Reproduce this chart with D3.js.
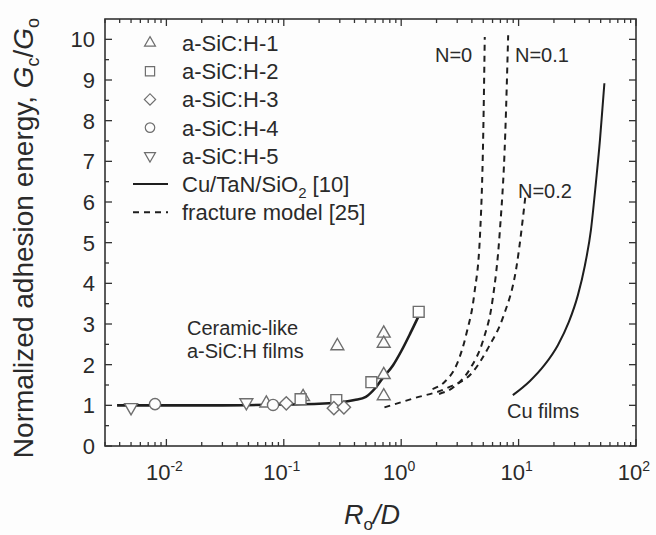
<!DOCTYPE html>
<html><head><meta charset="utf-8">
<script src="https://cdn.jsdelivr.net/npm/d3@7"></script>
<style>body{margin:0;background:#fdfdfd} svg{display:block;font-family:Arial,"Liberation Sans",sans-serif}</style>
</head><body><svg id="c" width="656" height="535"></svg>
<script>
// ---- data ----
const xTickVals = [0.01, 0.1, 1, 10, 100];
const xTickExp = ["-2", "-1", "0", "1", "2"];
const yTickVals = [0, 1, 2, 3, 4, 5, 6, 7, 8, 9, 10];

const sic1X = [0.071, 0.146, 0.286, 0.71, 0.71, 0.71, 0.71];
const sic1Y = [1.05, 1.21, 2.46, 2.77, 2.52, 1.75, 1.23];
const sic2X = [0.139, 0.28, 0.557, 1.41];
const sic2Y = [1.15, 1.13, 1.57, 3.30];
const sic3X = [0.105, 0.267, 0.325];
const sic3Y = [1.05, 0.93, 0.95];
const sic4X = [0.008, 0.081];
const sic4Y = [1.03, 1.01];
const sic5X = [0.005, 0.048];
const sic5Y = [0.95, 1.07];

const fitX = [0.0038, 0.01, 0.03, 0.1, 0.2, 0.3, 0.4, 0.5, 0.6, 0.7, 0.85, 1.0, 1.2, 1.41];
const fitY = [1.0, 1.0, 1.0, 1.02, 1.04, 1.07, 1.13, 1.21, 1.42, 1.68, 1.98, 2.33, 2.78, 3.2];
const cuX = [8.93, 12.5, 16.7, 21.6, 26.8, 32.0, 36.7, 41.3, 45.6, 49.3, 51.8, 53.8];
const cuY = [1.25, 1.60, 2.00, 2.48, 3.05, 3.71, 4.44, 5.31, 6.49, 7.52, 8.31, 8.92];
const n0X = [1.85, 2.35, 3.0, 3.6, 4.2, 4.7, 5.0, 5.15];
const n0Y = [1.40, 1.58, 2.03, 2.77, 3.75, 5.23, 7.69, 10.06];
const n1X = [2.1, 2.77, 3.9, 5.0, 6.0, 6.9, 7.7, 8.15];
const n1Y = [1.28, 1.44, 1.92, 2.61, 3.59, 5.23, 7.69, 10.1];
const n2X = [0.72, 1.27, 2.43, 4.1, 5.6, 7.4, 9.6, 11.5];
const n2Y = [0.95, 1.17, 1.42, 1.83, 2.45, 3.18, 4.41, 6.21];

const legendLabels = ["a-SiC:H-1", "a-SiC:H-2", "a-SiC:H-3", "a-SiC:H-4", "a-SiC:H-5"];

// ---- layout ----
const L = 105, R = 636, T = 19, B = 446;
const svg = d3.select("#c");
const x = d3.scaleLog().domain([0.003, 100]).range([L, R]);
const y = d3.scaleLinear().domain([0, 10.5]).range([B, T]);
const txt = "#2a2a2a", axc = "#333", mk = "#6e6e6e";

svg.append("rect").attr("width", 656).attr("height", 535).attr("fill", "#fdfdfd");

// ticks
const g = svg.append("g").attr("stroke", axc).attr("stroke-width", 1.3);
const ymin = d3.range(0.5, 10.5, 1);
yTickVals.forEach(v => {
  g.append("line").attr("x1", L).attr("x2", L + 7).attr("y1", y(v)).attr("y2", y(v));
  g.append("line").attr("x1", R).attr("x2", R - 7).attr("y1", y(v)).attr("y2", y(v));
});
ymin.forEach(v => {
  g.append("line").attr("x1", L).attr("x2", L + 4).attr("y1", y(v)).attr("y2", y(v));
  g.append("line").attr("x1", R).attr("x2", R - 4).attr("y1", y(v)).attr("y2", y(v));
});
const xmin = [];
[0.001, 0.01, 0.1, 1, 10].forEach(d => { for (let k = 2; k <= 9; k++) { const v = d * k; if (v >= 0.003 && v < 100) xmin.push(v); } });
xTickVals.forEach(v => {
  g.append("line").attr("x1", x(v)).attr("x2", x(v)).attr("y1", B).attr("y2", B - 7);
  g.append("line").attr("x1", x(v)).attr("x2", x(v)).attr("y1", T).attr("y2", T + 7);
});
xmin.forEach(v => {
  g.append("line").attr("x1", x(v)).attr("x2", x(v)).attr("y1", B).attr("y2", B - 4);
  g.append("line").attr("x1", x(v)).attr("x2", x(v)).attr("y1", T).attr("y2", T + 4);
});
svg.append("rect").attr("x", L).attr("y", T).attr("width", R - L).attr("height", B - T)
  .attr("fill", "none").attr("stroke", axc).attr("stroke-width", 1.6);

// tick labels
yTickVals.forEach(v => {
  svg.append("text").attr("x", L - 10).attr("y", y(v) + 8).attr("text-anchor", "end")
    .attr("font-size", 22).attr("fill", txt).text(v);
});
xTickVals.forEach((v, i) => {
  const t = svg.append("text").attr("x", x(v) - 2).attr("y", 480).attr("text-anchor", "middle")
    .attr("font-size", 22).attr("fill", txt);
  t.append("tspan").text("10");
  t.append("tspan").attr("dy", -9).attr("font-size", 14).text(xTickExp[i]);
});

// axis titles
const yt = svg.append("text").attr("transform", "translate(33,238) rotate(-90)")
  .attr("text-anchor", "middle").attr("font-size", 28).attr("fill", txt);
yt.append("tspan").text("Normalized adhesion energy,  ");
yt.append("tspan").attr("font-style", "italic").text("G");
yt.append("tspan").attr("dy", 6).attr("font-size", 18).text("c");
yt.append("tspan").attr("dy", -6).text("/");
yt.append("tspan").attr("font-style", "italic").text("G");
yt.append("tspan").attr("dy", 6).attr("font-size", 18).text("o");

const xt = svg.append("text").attr("x", 372).attr("y", 524).attr("text-anchor", "middle")
  .attr("font-size", 27).attr("fill", txt);
xt.append("tspan").attr("font-style", "italic").text("R");
xt.append("tspan").attr("dy", 6).attr("font-size", 17).text("o");
xt.append("tspan").attr("dy", -6).attr("font-style", "italic").text("/D");

// curves
const line = d3.line().x(d => x(d[0])).y(d => y(d[1])).curve(d3.curveMonotoneX);
function curve(xs, ys, w, dash) {
  svg.append("path").attr("d", line(xs.map((v, i) => [v, ys[i]])))
    .attr("fill", "none").attr("stroke", "#1e1e1e").attr("stroke-width", w)
    .attr("stroke-dasharray", dash || null);
}
curve(fitX, fitY, 2.6);
curve(cuX, cuY, 2.0);
curve(n0X, n0Y, 2.0, "6,5");
curve(n1X, n1Y, 2.0, "6,5");
curve(n2X, n2Y, 2.0, "6,5");

// markers
const triUp = d3.symbol().type(d3.symbolTriangle).size(72)();
const sq = d3.symbol().type(d3.symbolSquare).size(118)();
const dia = d3.symbol().type(d3.symbolSquare).size(88)();
const circ = d3.symbol().type(d3.symbolCircle).size(98)();
const shapes = [
  { p: triUp, r: 0 }, { p: sq, r: 0 }, { p: dia, r: 45 }, { p: circ, r: 0 }, { p: triUp, r: 180 }
];
const sets = [[sic1X, sic1Y], [sic2X, sic2Y], [sic3X, sic3Y], [sic4X, sic4Y], [sic5X, sic5Y]];
sets.forEach((s, k) => {
  s[0].forEach((v, i) => {
    svg.append("path").attr("d", shapes[k].p)
      .attr("transform", `translate(${x(v)},${y(s[1][i])}) rotate(${shapes[k].r})`)
      .attr("fill", "#fdfdfd").attr("stroke", mk).attr("stroke-width", 1.4);
  });
});

// legend
const ly0 = 43, ldy = 28.2;
legendLabels.forEach((lab, k) => {
  const yy = ly0 + k * ldy;
  svg.append("path").attr("d", shapes[k].p)
    .attr("transform", `translate(150,${yy}) rotate(${shapes[k].r}) scale(0.85)`)
    .attr("fill", "#fdfdfd").attr("stroke", mk).attr("stroke-width", 1.4);
  svg.append("text").attr("x", 182).attr("y", yy + 8).attr("font-size", 22).attr("fill", txt).text(lab);
});
{
  const yy = ly0 + 5 * ldy;
  svg.append("line").attr("x1", 133).attr("x2", 168).attr("y1", yy).attr("y2", yy)
    .attr("stroke", "#1e1e1e").attr("stroke-width", 2);
  const t = svg.append("text").attr("x", 182).attr("y", yy + 8).attr("font-size", 22).attr("fill", txt);
  t.append("tspan").text("Cu/TaN/SiO");
  t.append("tspan").attr("dy", 6).attr("font-size", 15).text("2");
  t.append("tspan").attr("dy", -6).text(" [10]");
  const yy2 = ly0 + 6 * ldy;
  svg.append("line").attr("x1", 133).attr("x2", 168).attr("y1", yy2).attr("y2", yy2)
    .attr("stroke", "#1e1e1e").attr("stroke-width", 2).attr("stroke-dasharray", "6,5");
  svg.append("text").attr("x", 182).attr("y", yy2 + 8).attr("font-size", 22).attr("fill", txt).text("fracture model [25]");
}

// annotations
function ann(s, xx, yy) {
  svg.append("text").attr("x", xx).attr("y", yy).attr("font-size", 20).attr("fill", txt).text(s);
}
ann("Ceramic-like", 187, 335);
ann("a-SiC:H films", 187, 358);
ann("N=0", 435, 62);
ann("N=0.1", 515, 62);
ann("N=0.2", 518, 198);
ann("Cu films", 507, 418);
</script></body></html>
